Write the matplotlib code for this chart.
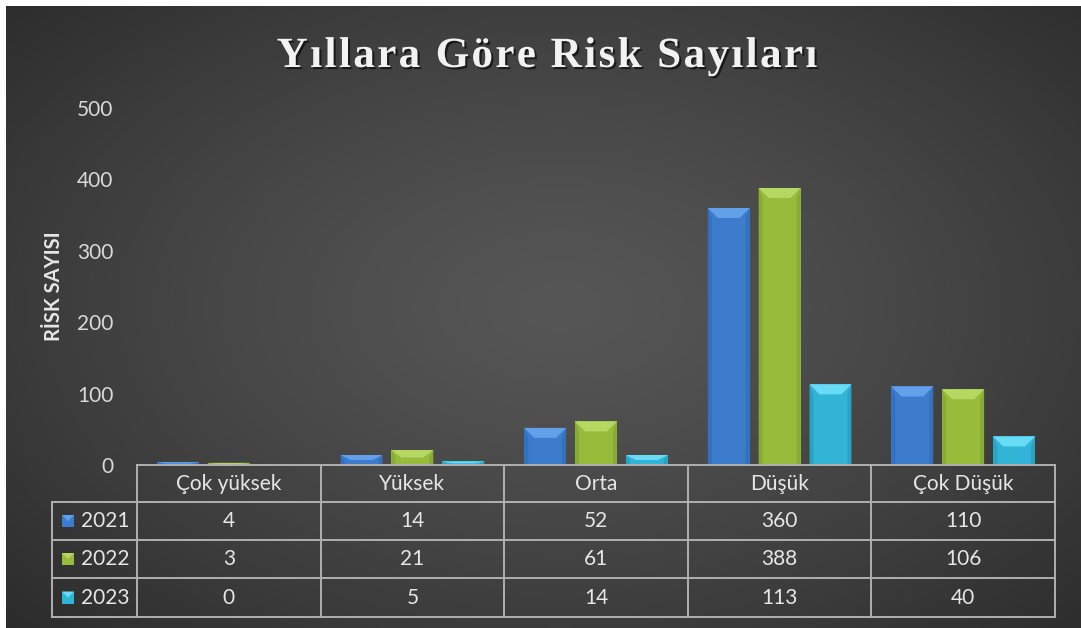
import numpy as np
import matplotlib
matplotlib.use("Agg")
import matplotlib.pyplot as plt
import matplotlib.patheffects as pe
from matplotlib.patches import Rectangle, Polygon
from matplotlib.transforms import blended_transform_factory

categories = ["Çok yüksek", "Yüksek", "Orta", "Düşük", "Çok Düşük"]
years = ["2021", "2022", "2023"]
v2021 = [4, 14, 52, 360, 110]
v2022 = [3, 21, 61, 388, 106]
v2023 = [0, 5, 14, 113, 40]
yticks = [0, 100, 200, 300, 400, 500]
title = "Yıllara Göre Risk Sayıları"

colors = ["#3d7ccd", "#97bc3c", "#31b4d5"]
tops = ["#63a0ea", "#b6d862", "#6adbf5"]
sides = ["#3470bd", "#88ab33", "#2aa3c2"]

W, H = 1081, 628
plt.rcParams['font.family'] = ['Lato', 'DejaVu Sans']
fig = plt.figure(figsize=(W / 100, H / 100), dpi=100, facecolor="white")


def fx(px):
    return px / W


def fy(py):
    return 1 - py / H


# background gradient
bg = fig.add_axes([fx(6), 0, 1 - fx(6), 1 - 6 / H], zorder=-10)
gh, gw = H - 6, W - 6
yy, xx = np.mgrid[0:gh, 0:gw]
r = np.sqrt(((xx - 554) / 806.0) ** 2 + ((yy - 300) / 498.0) ** 2)
v = (86 - 46 * np.clip(r, 0, 1) ** 1.3) / 255.0
bg.imshow(np.dstack([v, v, v]), aspect="auto", interpolation="bilinear")
bg.axis("off")

# main axes
ax = fig.add_axes([fx(137), fy(465), fx(1055) - fx(137), fy(108) - fy(465)])
ax.set_facecolor("none")
ax.set_xlim(-0.5, len(categories) - 0.5)
ax.set_ylim(0, 500)
for s in ax.spines.values():
    s.set_visible(False)
ax.set_xticks([])
ax.set_yticks(yticks)
ax.tick_params(axis="y", length=0, pad=17, labelsize=15, labelcolor="#d9d9d9")
ax.set_ylabel("RİSK SAYISI", fontsize=14.5, fontweight="bold", color="#e6e6e6")
ax.yaxis.set_label_coords(-(137 - 64) / 918.0, 0.5)

dxp = 5 / 918.0
dyp = 500 / 357.0
x = np.arange(len(categories))
step, bw = 0.277, 0.228
for k, vals in enumerate([v2021, v2022, v2023]):
    bars = ax.bar(x + (k - 1) * step, vals, bw, color=colors[k], linewidth=0, zorder=2)
    for b in bars:
        x0, w, h = b.get_x(), b.get_width(), b.get_height()
        if h <= 0:
            continue
        bx = min(10 * dxp, w / 2)
        by = min(10 * dyp, h / 2)
        sx = min(4 * dxp, w / 4)
        ax.add_patch(Polygon([(x0, 0), (x0, h), (x0 + sx, h - by), (x0 + sx, 0)],
                             closed=True, color=sides[k], lw=0, zorder=3))
        ax.add_patch(Polygon([(x0 + w, 0), (x0 + w, h), (x0 + w - sx, h - by), (x0 + w - sx, 0)],
                             closed=True, color=sides[k], lw=0, zorder=3))
        ax.add_patch(Polygon([(x0, h), (x0 + w, h), (x0 + w - bx, h - by), (x0 + bx, h - by)],
                             closed=True, color=tops[k], lw=0, zorder=3))

# data table
line_c = "#b0b0b0"
lw = 1.4
rows_y = [465, 502, 540, 578, 617]
trans = blended_transform_factory(ax.transData, fig.transFigure)
col_edges = np.arange(len(categories) + 1) - 0.5
fig.add_artist(plt.Line2D([fx(137), fx(1055)], [fy(465)] * 2, color=line_c, lw=lw))
for py in rows_y[1:]:
    fig.add_artist(plt.Line2D([fx(52), fx(1055)], [fy(py)] * 2, color=line_c, lw=lw))
for ce in col_edges:
    fig.add_artist(plt.Line2D([ce, ce], [fy(465), fy(617)], color=line_c, lw=lw, transform=trans))
fig.add_artist(plt.Line2D([fx(52), fx(52)], [fy(502), fy(617)], color=line_c, lw=lw))

txt_c = "#e6e6e6"
hy = (rows_y[0] + rows_y[1]) / 2
for i, c in enumerate(categories):
    fig.text(i, fy(hy), c, transform=trans, ha="center", va="center", fontsize=15, color=txt_c)
for k, (yr, vals) in enumerate(zip(years, [v2021, v2022, v2023])):
    cy = (rows_y[k + 1] + rows_y[k + 2]) / 2
    fig.text(fx(81), fy(cy), yr, ha="left", va="center", fontsize=15, color=txt_c)
    fig.add_artist(Rectangle((fx(62), fy(cy + 6)), fx(12), 12 / H, color=colors[k], lw=0))
    fig.add_artist(Polygon([(fx(62), fy(cy - 6)), (fx(74), fy(cy - 6)), (fx(68), fy(cy))],
                           closed=True, color=tops[k], lw=0))
    for i, val in enumerate(vals):
        fig.text(i, fy(cy), str(val), transform=trans, ha="center", va="center",
                 fontsize=15, color=txt_c)

# title with letter spacing
tkw = dict(fontsize=31, fontweight="bold", family="Liberation Serif", color="#f2f2f2")
renderer = fig.canvas.get_renderer()

t0 = fig.text(0, 0, "||", **tkw)
bar_w = t0.get_window_extent(renderer).width
t0.remove()


def text_w(s):
    t = fig.text(0, 0, "|" + s + "|", **tkw)
    w = t.get_window_extent(renderer).width
    t.remove()
    return w - bar_w


spacing = 2.4
total = text_w(title) + spacing * (len(title) - 1)
start = 547 - total / 2
shadow = [pe.SimplePatchShadow(offset=(1.5, -1.5), shadow_rgbFace="black", alpha=0.6), pe.Normal()]
for i, ch in enumerate(title):
    px = start + text_w(title[:i]) + spacing * i
    fig.text(fx(px), fy(67), ch, ha="left", va="baseline", path_effects=shadow, **tkw)

fig.savefig("out.png", dpi=100, facecolor=fig.get_facecolor())
